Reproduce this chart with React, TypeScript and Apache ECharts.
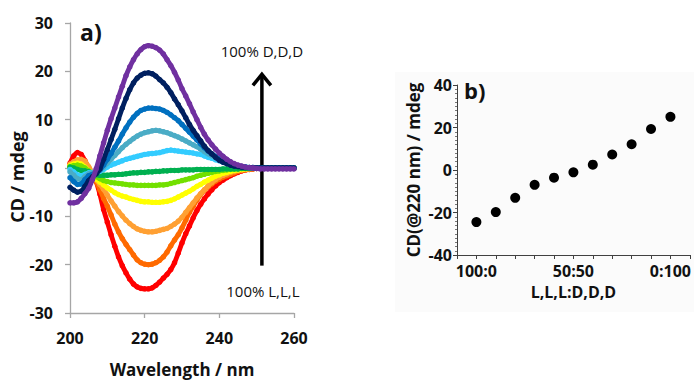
import { useEffect, useRef } from "react";
import * as echarts from "echarts";

// Panel a) : CD spectra, wavelength 200..260 nm at 1 nm steps
const wavelengths = Array.from({ length: 61 }, (_, i) => 200 + i);

const cdRed = [
  1.0, 2.5, 3.2, 2.8, 1.5, 0.0, -1.3, -2.8, -5.4, -8.6,
  -11.2, -13.8, -16.2, -18.4, -20.2, -21.7, -23.0, -24.0, -24.6, -24.9,
  -25.0, -25.0, -24.8, -24.3, -23.6, -22.8, -22.0, -21.0, -19.6, -17.6,
  -15.5, -13.6, -12.0, -10.3, -8.8, -7.5, -6.4, -5.4, -4.5, -3.7,
  -3.0, -2.5, -2.0, -1.6, -1.2, -0.9, -0.6, -0.4, -0.3, -0.2,
  -0.1, 0, 0, 0, 0, 0, 0, 0, 0, 0, 0,
];
const cdOrangeRed = [
  0.3, 0.6, 0.8, 0.6, 0.0, -0.8, -1.7, -2.8, -4.5, -6.3,
  -7.9, -9.7, -11.6, -13.2, -14.6, -15.8, -16.9, -18.0, -19.0, -19.6,
  -19.9, -20.0, -19.9, -19.6, -19.1, -18.4, -17.4, -16.1, -14.9, -13.8,
  -12.4, -10.8, -9.2, -7.9, -6.6, -5.5, -4.6, -3.9, -3.3, -2.7,
  -2.3, -1.9, -1.6, -1.3, -1.0, -0.7, -0.5, -0.4, -0.3, -0.2,
  -0.1, 0, 0, 0, 0, 0, 0, 0, 0, 0, 0,
];
const cdOrange = [
  0.8, 1.3, 1.7, 1.8, 1.4, 0.3, -1.0, -2.4, -3.4, -4.4,
  -5.6, -6.8, -7.9, -9.0, -9.9, -10.8, -11.5, -12.1, -12.6, -12.9,
  -13.1, -13.2, -13.2, -13.1, -12.9, -12.7, -12.5, -12.1, -11.6, -11.0,
  -10.2, -9.2, -8.2, -7.2, -6.2, -5.3, -4.5, -3.7, -3.0, -2.4,
  -1.9, -1.5, -1.2, -0.9, -0.7, -0.5, -0.4, -0.3, -0.2, -0.1,
  0, 0, 0, 0, 0, 0, 0, 0, 0, 0, 0,
];
const cdYellow = [
  0.5, 0.8, 1.0, 0.8, 0.2, -0.6, -1.5, -2.3, -2.9, -3.5,
  -4.1, -4.6, -5.1, -5.5, -5.8, -6.0, -6.3, -6.5, -6.7, -6.9,
  -7.0, -7.0, -7.1, -7.1, -7.1, -7.0, -6.9, -6.7, -6.4, -6.0,
  -5.6, -5.2, -4.8, -4.3, -3.8, -3.4, -2.9, -2.5, -2.1, -1.7,
  -1.4, -1.1, -0.9, -0.7, -0.5, -0.4, -0.3, -0.2, -0.1, -0.1,
  0, 0, 0, 0, 0, 0, 0, 0, 0, 0, 0,
];
const cdLightGreen = [
  0.3, 0.5, 0.6, 0.4, 0.0, -0.6, -1.2, -1.8, -2.2, -2.6,
  -2.8, -3.0, -3.1, -3.2, -3.3, -3.4, -3.5, -3.5, -3.6, -3.6,
  -3.6, -3.6, -3.6, -3.6, -3.5, -3.5, -3.4, -3.2, -3.0, -2.8,
  -2.6, -2.4, -2.2, -2.0, -1.7, -1.5, -1.3, -1.1, -0.9, -0.7,
  -0.6, -0.5, -0.4, -0.3, -0.2, -0.2, -0.1, -0.1, -0.1, 0,
  0, 0, 0, 0, 0, 0, 0, 0, 0, 0, 0,
];
const cdGreen = [
  0.2, 0.0, -0.3, -0.5, -0.6, -0.8, -1.1, -1.4, -1.5, -1.5,
  -1.5, -1.4, -1.4, -1.3, -1.3, -1.2, -1.1, -1.0, -1.0, -0.9,
  -0.9, -0.8, -0.8, -0.7, -0.7, -0.6, -0.6, -0.5, -0.5, -0.5,
  -0.4, -0.4, -0.4, -0.4, -0.3, -0.3, -0.3, -0.3, -0.3, -0.3,
  -0.3, -0.2, -0.2, -0.2, -0.2, -0.2, -0.1, -0.1, -0.1, -0.1,
  -0.1, 0, 0, 0, 0, 0, 0, 0, 0, 0, 0,
];
const cdSky = [
  -0.3, -0.8, -1.4, -1.6, -1.3, -1.0, -0.9, -0.9, -0.7, -0.3,
  0.2, 0.6, 0.9, 1.2, 1.5, 1.8, 2.0, 2.2, 2.4, 2.6,
  2.8, 2.9, 3.0, 3.1, 3.2, 3.4, 3.6, 3.7, 3.6, 3.5,
  3.4, 3.3, 3.2, 3.1, 2.9, 2.8, 2.5, 2.2, 2.0, 1.7,
  1.5, 1.2, 1.0, 0.8, 0.6, 0.5, 0.3, 0.2, 0.1, 0.1,
  0, 0, 0, 0, 0, 0, 0, 0, 0, 0, 0,
];
const cdTeal = [
  -0.8, -1.5, -2.2, -2.4, -1.8, -1.2, -1.0, -0.9, -0.5, 0.2,
  1.0, 1.8, 2.6, 3.4, 4.2, 4.9, 5.5, 6.1, 6.6, 7.0,
  7.3, 7.5, 7.7, 7.8, 7.7, 7.5, 7.3, 7.0, 6.7, 6.4,
  6.0, 5.6, 5.2, 4.8, 4.4, 3.9, 3.4, 2.9, 2.5, 2.1,
  1.7, 1.3, 1.0, 0.7, 0.5, 0.4, 0.3, 0.2, 0.1, 0.1,
  0, 0, 0, 0, 0, 0, 0, 0, 0, 0, 0,
];
const cdBlue = [
  -2.0, -2.8, -3.4, -3.3, -2.4, -1.6, -1.3, -1.0, -0.4, 0.6,
  1.8, 3.0, 4.3, 5.6, 7.0, 8.3, 9.5, 10.5, 11.3, 11.9,
  12.2, 12.4, 12.4, 12.3, 12.2, 11.9, 11.5, 11.0, 10.4, 9.8,
  9.0, 8.2, 7.4, 6.6, 5.8, 5.0, 4.2, 3.5, 2.9, 2.4,
  1.9, 1.5, 1.2, 0.9, 0.6, 0.4, 0.3, 0.2, 0.1, 0.1,
  0, 0, 0, 0, 0, 0, 0, 0, 0, 0, 0,
];
const cdNavy = [
  -4.0, -4.6, -5.0, -4.8, -3.8, -2.6, -1.8, -1.2, -0.2, 1.8,
  3.8, 5.9, 8.0, 10.2, 12.4, 14.4, 16.2, 17.6, 18.6, 19.2,
  19.6, 19.7, 19.5, 19.0, 18.3, 17.6, 16.7, 15.6, 14.3, 13.1,
  11.8, 10.4, 9.0, 7.8, 6.7, 5.6, 4.5, 3.6, 2.9, 2.2,
  1.6, 1.2, 0.9, 0.6, 0.4, 0.3, 0.2, 0.1, 0.1, 0.1,
  0, 0, 0, 0, 0, 0, 0, 0, 0, 0, 0,
];
const cdPurple = [
  -7.2, -7.2, -7.0, -6.3, -5.3, -4.2, -2.4, -0.2, 2.5, 5.2,
  7.8, 10.2, 12.4, 14.7, 16.9, 19.1, 20.9, 22.4, 23.6, 24.5,
  25.1, 25.3, 25.2, 24.9, 24.4, 23.6, 22.4, 21.2, 19.8, 18.2,
  16.4, 14.9, 13.3, 11.6, 10.0, 8.4, 7.0, 5.8, 4.8, 3.9,
  3.1, 2.4, 1.8, 1.3, 0.9, 0.6, 0.4, 0.2, 0.1, 0.0,
  -0.1, -0.2, -0.2, -0.2, -0.2, -0.2, -0.2, -0.2, -0.2, -0.2, -0.2,
];

const spectra = [cdRed, cdOrangeRed, cdOrange, cdYellow, cdLightGreen, cdGreen, cdSky, cdTeal, cdBlue, cdNavy, cdPurple];
const spectraNames = ["100:0", "90:10", "80:20", "70:30", "60:40", "50:50", "40:60", "30:70", "20:80", "10:90", "0:100"];
const spectraColors = ["#ff0000", "#ff6a00", "#ffa033", "#ffff00", "#72e000", "#00b050", "#33ccff", "#4bacc6", "#0070c0", "#002060", "#7030a0"];

// Panel b) : CD at 220 nm vs composition
const ratioIndex = [0, 1, 2, 3, 4, 5, 6, 7, 8, 9, 10];
const cd220 = [-24.5, -19.8, -13.1, -7.0, -3.6, -1.1, 2.5, 7.3, 12.1, 19.3, 25.0];
const ratioTickPos = [0, 5, 10];
const ratioTickLabels = ["100:0", "50:50", "0:100"];

const FONT = "Open Sans";

export default function App() {
  const ref = useRef<HTMLDivElement>(null);
  useEffect(() => {
    if (!ref.current) return;
    const chart = echarts.init(ref.current, null, { renderer: "svg" });
    const leftAxisColor = "#a6a6a6";
    const rightAxisColor = "#404040";
    const series: any[] = spectra.map((arr, k) => ({
      name: spectraNames[k],
      type: "line",
      xAxisIndex: 0,
      yAxisIndex: 0,
      data: wavelengths.map((w, i) => [w, arr[i]]),
      smooth: 0.2,
      showSymbol: true,
      showAllSymbol: true,
      symbol: "circle",
      symbolSize: 5.5,
      itemStyle: { color: spectraColors[k] },
      lineStyle: { color: spectraColors[k], width: 4.8 },
      z: 2 + k,
    }));
    series.push({
      type: "scatter",
      xAxisIndex: 1,
      yAxisIndex: 1,
      data: ratioIndex.map((x, i) => [x, cd220[i]]),
      symbolSize: 10,
      itemStyle: { color: "#000", opacity: 1 },
    });
    chart.setOption({
      animation: false,
      backgroundColor: "#ffffff",
      textStyle: { fontFamily: FONT },
      grid: [
        { left: 70, top: 23, width: 224, height: 294 },
        { left: 457, top: 85, width: 233, height: 170 },
      ],
      xAxis: [
        {
          type: "value",
          gridIndex: 0,
          min: 200,
          max: 260,
          interval: 20,
          axisLine: { show: true, onZero: false, lineStyle: { color: leftAxisColor, width: 1.3 } },
          axisTick: { show: true, length: 5, lineStyle: { color: leftAxisColor, width: 1.3 } },
          axisLabel: { fontSize: 16, fontWeight: "bold", color: "#111", margin: 17, fontFamily: FONT },
          splitLine: { show: false },
          name: "Wavelength / nm",
          nameLocation: "middle",
          nameGap: 48,
          nameTextStyle: { fontSize: 17, fontWeight: "bold", color: "#111", fontFamily: FONT },
        },
        {
          type: "value",
          gridIndex: 1,
          min: -1,
          max: 11,
          interval: 1,
          axisLine: { show: true, onZero: false, lineStyle: { color: rightAxisColor, width: 1 } },
          axisTick: { show: true, length: 4, lineStyle: { color: rightAxisColor } },
          axisLabel: {
            fontSize: 16,
            fontWeight: "bold",
            color: "#111",
            margin: 8,
            fontFamily: FONT,
            formatter: (v: number) => {
              const idx = ratioTickPos.indexOf(v);
              return idx >= 0 ? ratioTickLabels[idx] : "";
            },
          },
          splitLine: { show: false },
          name: "L,L,L:D,D,D",
          nameLocation: "middle",
          nameGap: 29,
          nameTextStyle: { fontSize: 16, fontWeight: "bold", color: "#111", fontFamily: FONT },
        },
      ],
      yAxis: [
        {
          type: "value",
          gridIndex: 0,
          min: -30,
          max: 30,
          interval: 10,
          axisLine: { show: true, onZero: false, lineStyle: { color: leftAxisColor, width: 1.3 } },
          axisTick: { show: true, length: 5, lineStyle: { color: leftAxisColor, width: 1.3 } },
          axisLabel: { fontSize: 16, fontWeight: "bold", color: "#111", margin: 17, fontFamily: FONT },
          splitLine: { show: false },
          name: "CD / mdeg",
          nameLocation: "middle",
          nameRotate: 90,
          nameGap: 39,
          nameTextStyle: { fontSize: 18, fontWeight: "bold", color: "#111", fontFamily: FONT, padding: [0, 18, 0, 0] },
        },
        {
          type: "value",
          gridIndex: 1,
          min: -40,
          max: 40,
          interval: 20,
          axisLine: { show: true, onZero: false, lineStyle: { color: rightAxisColor, width: 1 } },
          axisTick: { show: true, length: 4, lineStyle: { color: rightAxisColor } },
          minorTick: { show: true, splitNumber: 10, length: 2, lineStyle: { color: "#777" } },
          axisLabel: { fontSize: 16, fontWeight: "bold", color: "#111", margin: 5, fontFamily: FONT },
          splitLine: { show: false },
          name: "CD(@220 nm) / mdeg",
          nameLocation: "middle",
          nameRotate: 90,
          nameGap: 35,
          nameTextStyle: { fontSize: 17, fontWeight: "bold", color: "#111", fontFamily: FONT },
        },
      ],
      series,
    });

    const top = chart.convertToPixel({ xAxisIndex: 0, yAxisIndex: 0 }, [251.4, 19.8]) as number[];
    const bottom = chart.convertToPixel({ xAxisIndex: 0, yAxisIndex: 0 }, [251.4, -20.2]) as number[];
    const ax = top[0];
    chart.setOption({
      graphic: [
        {
          type: "rect",
          shape: { x: 395, y: 72, width: 299, height: 240 },
          style: { fill: "#fbfbfb" },
          z: -10,
          silent: true,
        },
        {
          type: "text",
          x: 80,
          y: 20,
          style: { text: "a)", font: `bold 23px "${FONT}"`, fill: "#111" },
        },
        {
          type: "text",
          x: 464,
          y: 79,
          style: { text: "b)", font: `bold 22px "${FONT}"`, fill: "#111" },
        },
        {
          type: "line",
          shape: { x1: ax, y1: bottom[1], x2: ax, y2: top[1] + 2 },
          style: { stroke: "#000", lineWidth: 3.5 },
        },
        {
          type: "polyline",
          shape: { points: [[ax - 9, top[1] + 13], [ax, top[1] + 2], [ax + 9, top[1] + 13]] },
          style: { stroke: "#000", lineWidth: 3.5, fill: null },
        },
        {
          type: "text",
          x: ax,
          y: top[1] - 21,
          style: { text: "100% D,D,D", font: `15px "${FONT}"`, fill: "#111", align: "center", verticalAlign: "middle" },
        },
        {
          type: "text",
          x: ax + 1,
          y: bottom[1] + 25,
          style: { text: "100% L,L,L", font: `15px "${FONT}"`, fill: "#111", align: "center", verticalAlign: "middle" },
        },
      ],
    });
    return () => chart.dispose();
  }, []);
  return <div ref={ref} style={{ position: "fixed", left: 0, top: 0, width: 694, height: 383 }} />;
}
